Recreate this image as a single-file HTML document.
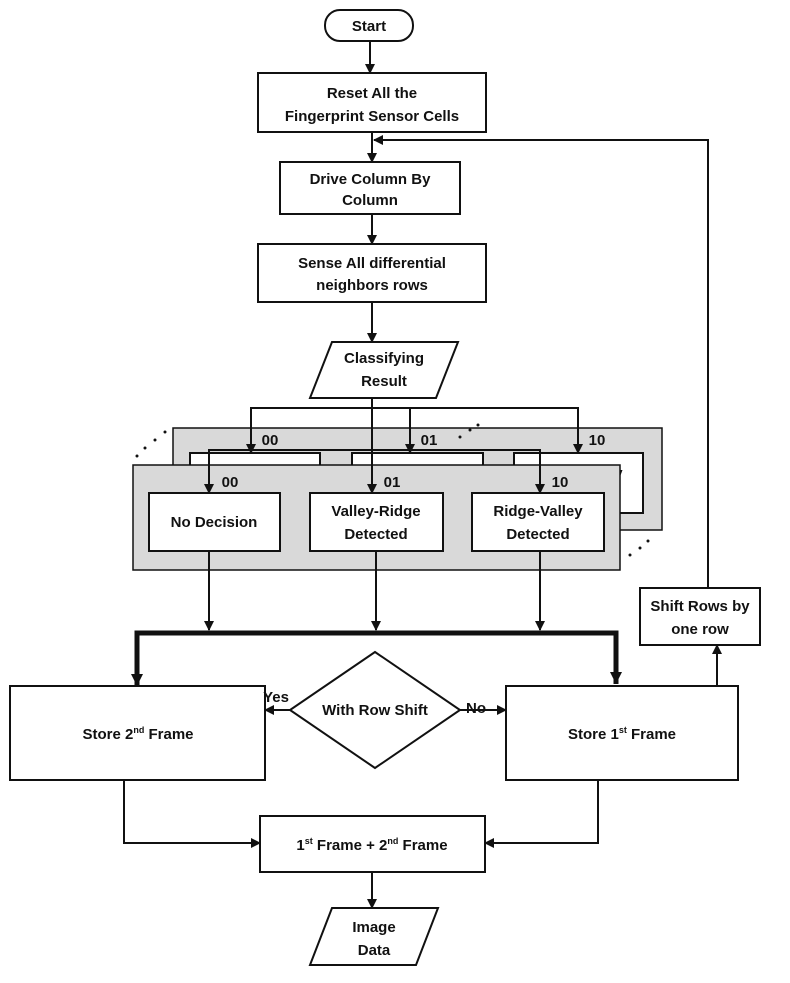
<!DOCTYPE html>
<html><head><meta charset="utf-8"><style>
html,body{margin:0;padding:0;background:#fff}
svg{display:block}
text{font-family:"Liberation Sans",sans-serif;font-weight:bold;font-size:15px;fill:#111;text-anchor:middle}
</style></head><body>
<svg width="790" height="983" viewBox="0 0 790 983" xmlns="http://www.w3.org/2000/svg">
<defs>
<marker id="a" markerWidth="10" markerHeight="10" refX="9" refY="5" orient="auto" markerUnits="userSpaceOnUse"><path d="M0,0 L10,5 L0,10 z" fill="#111"/></marker>
<marker id="b" markerWidth="12" markerHeight="22" refX="12" refY="6" orient="auto" markerUnits="userSpaceOnUse"><path d="M0,0 L12,6 L0,12 z" fill="#111"/></marker>
</defs>
<g stroke="#111" stroke-width="2" fill="none">
<rect x="325" y="10" width="88" height="31" rx="15" fill="#fff"/>
<line x1="370" y1="41" x2="370" y2="73" marker-end="url(#a)"/>
<rect x="258" y="73" width="228" height="59" fill="#fff"/>
<line x1="372" y1="132" x2="372" y2="162" marker-end="url(#a)"/>
<polyline points="708,588 708,140 374,140" marker-end="url(#a)"/>
<rect x="280" y="162" width="180" height="52" fill="#fff"/>
<line x1="372" y1="214" x2="372" y2="244" marker-end="url(#a)"/>
<rect x="258" y="244" width="228" height="58" fill="#fff"/>
<line x1="372" y1="302" x2="372" y2="342" marker-end="url(#a)"/>
<polygon points="332,342 458,342 436,398 310,398" fill="#fff"/>
<rect x="173" y="428" width="489" height="102" fill="#d9d9d9" stroke-width="1.5"/>
<rect x="190" y="453" width="130" height="60" fill="#fff"/>
<rect x="352" y="453" width="131" height="60" fill="#fff"/>
<rect x="514" y="453" width="129" height="60" fill="#fff"/>
<polyline points="251,453 251,408 578,408 578,453"/>
<line x1="251" y1="430" x2="251" y2="453" marker-end="url(#a)"/>
<line x1="410" y1="408" x2="410" y2="453" marker-end="url(#a)"/>
<line x1="578" y1="430" x2="578" y2="453" marker-end="url(#a)"/>
</g>
<text x="578" y="478">Ridge-Valley</text>
<text x="417" y="478">Valley-Ridge</text>
<g stroke="#111" stroke-width="2" fill="none">
<rect x="133" y="465" width="487" height="105" fill="#d9d9d9" stroke-width="1.5"/>
<polyline points="209,493 209,450 540,450 540,493"/>
<line x1="209" y1="470" x2="209" y2="493" marker-end="url(#a)"/>
<line x1="372" y1="398" x2="372" y2="493" marker-end="url(#a)"/>
<line x1="540" y1="470" x2="540" y2="493" marker-end="url(#a)"/>
<rect x="149" y="493" width="131" height="58" fill="#fff"/>
<rect x="310" y="493" width="133" height="58" fill="#fff"/>
<rect x="472" y="493" width="132" height="58" fill="#fff"/>
<line x1="209" y1="551" x2="209" y2="630" marker-end="url(#a)"/>
<line x1="376" y1="551" x2="376" y2="630" marker-end="url(#a)"/>
<line x1="540" y1="551" x2="540" y2="630" marker-end="url(#a)"/>
<polyline points="137,684 137,633 616,633 616,684" stroke-width="5" marker-end="url(#b)"/>
<line x1="137" y1="650" x2="137" y2="686" stroke-width="5" marker-end="url(#b)"/>
<rect x="10" y="686" width="255" height="94" fill="#fff"/>
<rect x="506" y="686" width="232" height="94" fill="#fff"/>
<polygon points="375,652 460,710 375,768 290,710" fill="#fff"/>
<line x1="290" y1="710" x2="265" y2="710" marker-end="url(#a)"/>
<line x1="460" y1="710" x2="506" y2="710" marker-end="url(#a)"/>
<rect x="640" y="588" width="120" height="57" fill="#fff"/>
<line x1="717" y1="686" x2="717" y2="645" marker-end="url(#a)"/>
<rect x="260" y="816" width="225" height="56" fill="#fff"/>
<polyline points="124,780 124,843 260,843" marker-end="url(#a)"/>
<polyline points="598,780 598,843 485,843" marker-end="url(#a)"/>
<line x1="372" y1="872" x2="372" y2="908" marker-end="url(#a)"/>
<polygon points="332,908 438,908 416,965 310,965" fill="#fff"/>
</g>
<g fill="#111">
<circle cx="165" cy="432" r="1.5"/><circle cx="155" cy="440" r="1.5"/><circle cx="145" cy="448" r="1.5"/><circle cx="137" cy="456" r="1.5"/>
<circle cx="460" cy="437" r="1.5"/><circle cx="470" cy="430" r="1.5"/><circle cx="478" cy="425" r="1.5"/>
<circle cx="630" cy="555" r="1.5"/><circle cx="640" cy="548" r="1.5"/><circle cx="648" cy="541" r="1.5"/>
</g>
<text x="369" y="31">Start</text>
<text x="372" y="98">Reset All the</text>
<text x="372" y="121">Fingerprint Sensor Cells</text>
<text x="370" y="184">Drive Column By</text>
<text x="370" y="205">Column</text>
<text x="372" y="268">Sense All differential</text>
<text x="372" y="290">neighbors rows</text>
<text x="384" y="363">Classifying</text>
<text x="384" y="386">Result</text>
<text x="270" y="445">00</text><text x="429" y="445">01</text><text x="597" y="445">10</text>
<text x="230" y="487">00</text><text x="392" y="487">01</text><text x="560" y="487">10</text>
<text x="214" y="527">No Decision</text>
<text x="376" y="516">Valley-Ridge</text><text x="376" y="539">Detected</text>
<text x="538" y="516">Ridge-Valley</text><text x="538" y="539">Detected</text>
<text x="700" y="611">Shift Rows by</text>
<text x="700" y="634">one row</text>
<text x="138" y="739">Store 2<tspan dy="-6" font-size="9">nd</tspan><tspan dy="6"> Frame</tspan></text>
<text x="622" y="739">Store 1<tspan dy="-6" font-size="9">st</tspan><tspan dy="6"> Frame</tspan></text>
<text x="375" y="715">With Row Shift</text>
<text x="276" y="702">Yes</text>
<text x="476" y="713">No</text>
<text x="372" y="850">1<tspan dy="-6" font-size="9">st</tspan><tspan dy="6"> Frame + 2</tspan><tspan dy="-6" font-size="9">nd</tspan><tspan dy="6"> Frame</tspan></text>
<text x="374" y="932">Image</text>
<text x="374" y="955">Data</text>
</svg>
</body></html>
